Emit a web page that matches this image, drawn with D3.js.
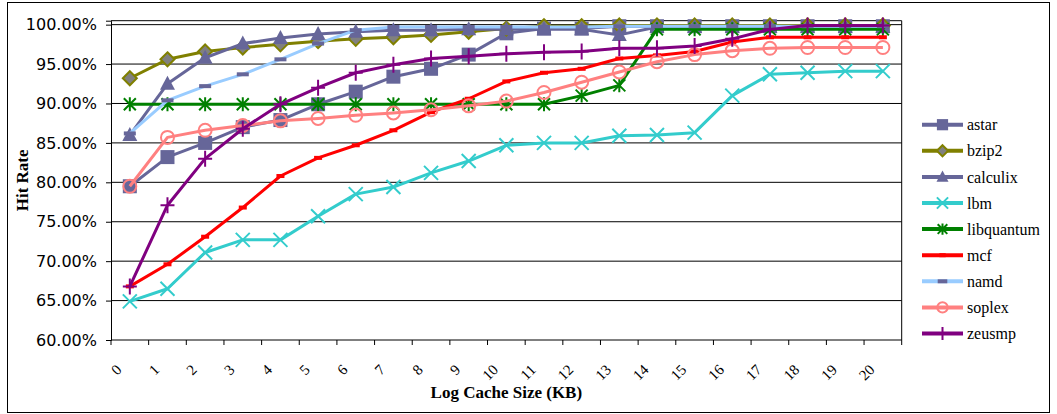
<!DOCTYPE html>
<html>
<head>
<meta charset="utf-8">
<script src="https://cdn.jsdelivr.net/npm/d3@7"></script>
<style>
  body { margin: 0; background: #fff; }
  svg { display: block; }
</style>
</head>
<body>
<svg id="chart" width="1057" height="414"></svg>
<script>
// Log2 of cache size in KB (category axis)
const cacheSizes = d3.range(0, 21).map(String);

// Hit rate (%) per benchmark
const astar      = [79.5, 83.2, 85.0, 87.0, 87.9, 89.9, 91.5, 93.4, 94.4, 96.2, 98.9, 99.5, 99.5, 99.8, 99.8, 99.8, 99.8, 99.8, 99.8, 99.8, 99.8];
const bzip2      = [93.2, 95.6, 96.6, 97.1, 97.5, 97.9, 98.2, 98.4, 98.7, 99.1, 99.5, 99.8, 99.8, 99.9, 99.9, 99.9, 99.9, 99.9, 99.9, 99.9, 99.9];
const calculix   = [86.0, 92.5, 95.8, 97.6, 98.3, 98.8, 99.1, 99.3, 99.3, 99.4, 99.4, 99.4, 99.4, 98.7, 99.7, 99.7, 99.7, 99.7, 99.7, 99.7, 99.7];
const lbm        = [64.9, 66.5, 71.1, 72.7, 72.7, 75.7, 78.5, 79.4, 81.2, 82.7, 84.7, 85.0, 85.0, 85.9, 86.0, 86.3, 91.0, 93.7, 93.9, 94.1, 94.1];
const libquantum = [89.9, 89.9, 89.9, 89.9, 89.9, 89.9, 89.9, 89.9, 89.9, 89.9, 89.9, 89.9, 91.0, 92.3, 99.4, 99.4, 99.4, 99.4, 99.4, 99.4, 99.4];
const mcf        = [66.8, 69.6, 73.1, 76.8, 80.8, 83.1, 84.7, 86.6, 88.9, 90.6, 92.8, 93.9, 94.4, 95.7, 96.1, 96.6, 97.8, 98.4, 98.4, 98.4, 98.4];
const namd       = [86.2, 90.4, 92.2, 93.7, 95.6, 97.6, 99.3, 99.7, 99.7, 99.7, 99.7, 99.7, 99.7, 99.8, 99.8, 99.8, 99.8, 99.8, 99.8, 99.8, 99.8];
const soplex     = [79.5, 85.7, 86.6, 87.2, 87.8, 88.1, 88.5, 88.8, 89.2, 89.7, 90.3, 91.4, 92.7, 94.0, 95.3, 96.2, 96.7, 97.0, 97.1, 97.1, 97.1];
const zeusmp     = [66.8, 77.1, 83.0, 86.8, 89.9, 92.0, 93.9, 94.9, 95.7, 96.0, 96.3, 96.5, 96.6, 97.0, 97.0, 97.3, 98.2, 99.4, 99.9, 99.9, 99.9];

const seriesNames = ["astar", "bzip2", "calculix", "lbm", "libquantum", "mcf", "namd", "soplex", "zeusmp"];
const seriesValues = [astar, bzip2, calculix, lbm, libquantum, mcf, namd, soplex, zeusmp];

// y-axis tick values (%)
const hitTicks = [60, 65, 70, 75, 80, 85, 90, 95, 100];

// Visual style per series
const styles = {
  astar:      { color: "#666699", marker: "square" },
  bzip2:      { color: "#808000", marker: "diamond" },
  calculix:   { color: "#666699", marker: "triangle" },
  lbm:        { color: "#33CCCC", marker: "x" },
  libquantum: { color: "#008000", marker: "star" },
  mcf:        { color: "#FF0000", marker: "dash" },
  namd:       { color: "#99CCFF", marker: "dashdark" },
  soplex:     { color: "#FF8080", marker: "circle" },
  zeusmp:     { color: "#800080", marker: "plus" }
};

const series = seriesNames.map((name, k) => ({ name, values: seriesValues[k] }));

const svg = d3.select("#chart");
const plot = { left: 111, right: 901.7, top: 20.7, bottom: 340 };

const x = d3.scaleBand().domain(cacheSizes).range([plot.left, plot.right]).paddingInner(0).paddingOuter(0);
const y = d3.scaleLinear().domain([60, 100.5]).range([plot.bottom, plot.top]);
const cx = c => x(c) + x.bandwidth() / 2;

// Outer chart frame
svg.append("rect")
  .attr("x", 7.5).attr("y", 2.5)
  .attr("width", 1042).attr("height", 410)
  .attr("fill", "#fff").attr("stroke", "#000").attr("stroke-width", 1);

// Horizontal gridlines
svg.append("g").selectAll("line")
  .data(hitTicks.filter(t => t > 60))
  .join("line")
  .attr("x1", plot.left).attr("x2", plot.right)
  .attr("y1", d => y(d)).attr("y2", d => y(d))
  .attr("stroke", "#000").attr("stroke-width", 1);

// Plot area border (top and right)
svg.append("path")
  .attr("d", `M${plot.left},${plot.top}H${plot.right}V${plot.bottom}`)
  .attr("fill", "none").attr("stroke", "#000").attr("stroke-width", 1);

// Y axis
const yAxis = svg.append("g")
  .attr("transform", `translate(${plot.left},0)`)
  .call(d3.axisLeft(y).tickValues(hitTicks).tickSize(5).tickPadding(9)
    .tickFormat(d => d.toFixed(2) + "%"));
yAxis.select(".domain").attr("stroke", "#000");
yAxis.selectAll(".tick line").attr("stroke", "#000");
yAxis.selectAll(".tick text")
  .attr("font-family", "'DejaVu Sans', sans-serif")
  .attr("font-size", 16)
  .attr("fill", "#000");

// X axis: ticks sit on category boundaries, labels under each category
const edges = cacheSizes.map(c => x(c)).concat([plot.right]);
const xAxis = svg.append("g");
xAxis.append("line")
  .attr("x1", plot.left).attr("x2", plot.right)
  .attr("y1", plot.bottom).attr("y2", plot.bottom)
  .attr("stroke", "#000");
xAxis.selectAll("line.tick")
  .data(edges)
  .join("line")
  .attr("class", "tick")
  .attr("x1", d => d).attr("x2", d => d)
  .attr("y1", plot.bottom).attr("y2", plot.bottom + 5)
  .attr("stroke", "#000");
xAxis.selectAll("text")
  .data(cacheSizes)
  .join("text")
  .attr("transform", d => `translate(${cx(d) - 11},${plot.bottom + 27}) rotate(-45)`)
  .attr("text-anchor", "end")
  .attr("dy", "0.35em")
  .attr("font-family", "'Liberation Serif', serif")
  .attr("font-size", 15)
  .text(d => d);

// Axis titles
svg.append("text")
  .attr("x", (plot.left + plot.right) / 2).attr("y", 398)
  .attr("text-anchor", "middle")
  .attr("font-family", "'Liberation Serif', serif")
  .attr("font-weight", "bold").attr("font-size", 17)
  .text("Log Cache Size (KB)");
svg.append("text")
  .attr("transform", `translate(28,${(plot.top + plot.bottom) / 2}) rotate(-90)`)
  .attr("text-anchor", "middle")
  .attr("font-family", "'Liberation Serif', serif")
  .attr("font-weight", "bold").attr("font-size", 17)
  .text("Hit Rate");

// Marker drawing
function drawMarker(g, type, color, s) {
  const sym = (t, area) => g.append("path").attr("d", d3.symbol().type(t).size(area)());
  switch (type) {
    case "square":
      g.append("rect").attr("x", -7 * s).attr("y", -7 * s).attr("width", 14 * s).attr("height", 14 * s)
        .attr("fill", color);
      break;
    case "diamond":
      g.append("path").attr("d", `M0,${-7 * s}L${7 * s},0L0,${7 * s}L${-7 * s},0Z`)
        .attr("fill", "#808080").attr("stroke", color).attr("stroke-width", 2);
      break;
    case "triangle":
      g.append("path").attr("d", `M0,${-8 * s}L${7.5 * s},${6 * s}L${-7.5 * s},${6 * s}Z`)
        .attr("fill", color);
      break;
    case "x":
      g.append("path").attr("d", `M${-7 * s},${-7 * s}L${7 * s},${7 * s}M${7 * s},${-7 * s}L${-7 * s},${7 * s}`)
        .attr("stroke", color).attr("stroke-width", 2);
      break;
    case "star":
      g.append("path").attr("d",
        `M0,${-7 * s}V${7 * s}M${-6 * s},${-6 * s}L${6 * s},${6 * s}M${6 * s},${-6 * s}L${-6 * s},${6 * s}`)
        .attr("stroke", color).attr("stroke-width", 2);
      break;
    case "dash":
      g.append("rect").attr("x", -4 * s).attr("y", -2).attr("width", 8 * s).attr("height", 4)
        .attr("fill", color);
      break;
    case "dashdark":
      g.append("rect").attr("x", -6 * s).attr("y", -2).attr("width", 12 * s).attr("height", 4)
        .attr("fill", "#666699");
      break;
    case "circle":
      g.append("circle").attr("r", 6.5 * s)
        .attr("fill", "none").attr("stroke", color).attr("stroke-width", 2);
      break;
    case "plus":
      g.append("path").attr("d", `M0,${-8 * s}V${8 * s}M${-7 * s},0H${7 * s}`)
        .attr("stroke", color).attr("stroke-width", 2);
      break;
  }
}

// Series lines and markers
const line = d3.line().x((d, i) => cx(cacheSizes[i])).y(d => y(d));
series.forEach(sr => {
  const st = styles[sr.name];
  const g = svg.append("g").attr("class", "series");
  g.append("path")
    .attr("d", line(sr.values))
    .attr("fill", "none")
    .attr("stroke", st.color)
    .attr("stroke-width", 3)
    .attr("stroke-linejoin", "round");
  sr.values.forEach((v, i) => {
    const mg = g.append("g").attr("transform", `translate(${cx(cacheSizes[i])},${y(v)})`);
    drawMarker(mg, st.marker, st.color, 1);
  });
});

// Legend
const legend = svg.append("g");
series.forEach((sr, k) => {
  const st = styles[sr.name];
  const ly = 124.7 + k * 26.1;
  const row = legend.append("g").attr("transform", `translate(0,${ly})`);
  row.append("line")
    .attr("x1", 922).attr("x2", 963)
    .attr("stroke", st.color).attr("stroke-width", 4);
  drawMarker(row.append("g").attr("transform", "translate(942.5,0)"), st.marker, st.color, 0.8);
  row.append("text")
    .attr("x", 967).attr("dy", "0.35em")
    .attr("font-family", "'Liberation Serif', serif")
    .attr("font-size", 16)
    .text(sr.name);
});
</script>
</body>
</html>
